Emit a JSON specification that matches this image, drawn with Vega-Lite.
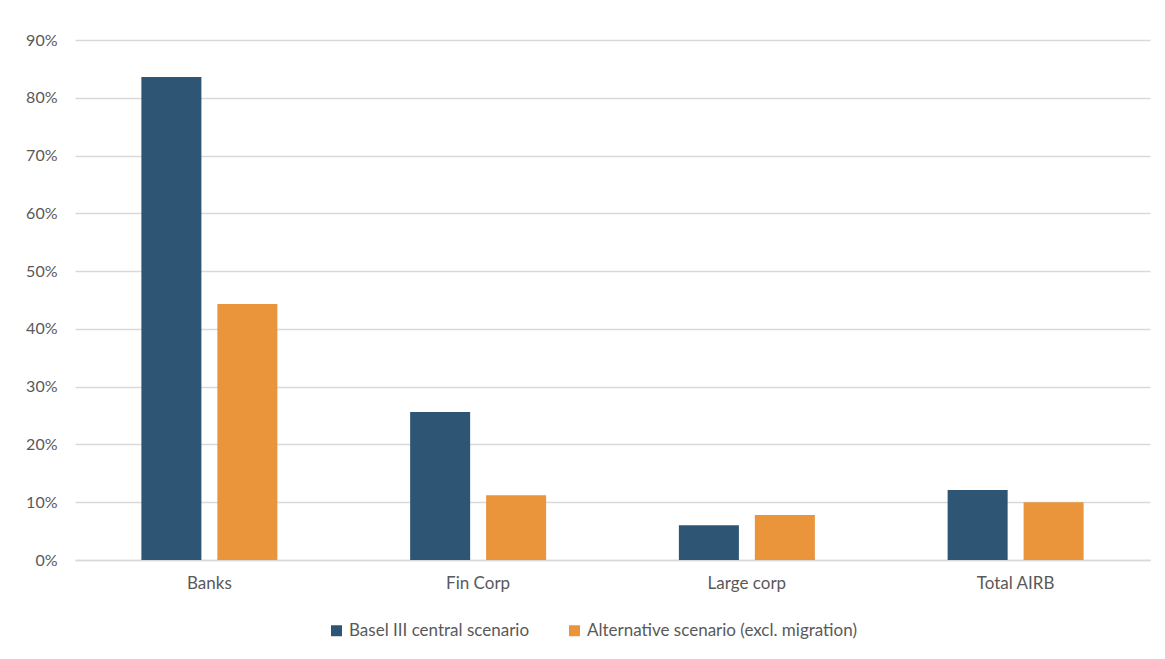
{
  "$schema": "https://vega.github.io/schema/vega-lite/v6.json",
  "autosize": "none",
  "width": 1075,
  "height": 520,
  "padding": {"left": 75, "top": 40, "right": 15, "bottom": 99},
  "background": "white",
  "data": {
    "values": [
      {"category": "Banks", "series": "Basel III central scenario", "value": 0.836},
      {"category": "Banks", "series": "Alternative scenario (excl. migration)", "value": 0.443},
      {"category": "Fin Corp", "series": "Basel III central scenario", "value": 0.256},
      {"category": "Fin Corp", "series": "Alternative scenario (excl. migration)", "value": 0.112},
      {"category": "Large corp", "series": "Basel III central scenario", "value": 0.060},
      {"category": "Large corp", "series": "Alternative scenario (excl. migration)", "value": 0.078},
      {"category": "Total AIRB", "series": "Basel III central scenario", "value": 0.121},
      {"category": "Total AIRB", "series": "Alternative scenario (excl. migration)", "value": 0.100}
    ]
  },
  "mark": {"type": "bar"},
  "encoding": {
    "x": {
      "field": "category",
      "type": "nominal",
      "sort": ["Banks", "Fin Corp", "Large corp", "Total AIRB"],
      "scale": {"paddingInner": 0.494, "paddingOuter": 0.247},
      "axis": {
        "title": null,
        "labelAngle": 0,
        "ticks": false,
        "domain": true,
        "domainColor": "#d9d9d9",
        "domainWidth": 1.5,
        "labelPadding": 15,
        "labelFont": "Lato",
        "labelFontSize": 17,
        "labelColor": "#595959"
      }
    },
    "xOffset": {
      "field": "series",
      "type": "nominal",
      "sort": ["Basel III central scenario", "Alternative scenario (excl. migration)"],
      "scale": {"paddingInner": 0.21}
    },
    "y": {
      "field": "value",
      "type": "quantitative",
      "scale": {"domain": [0, 0.9], "nice": false},
      "axis": {
        "title": null,
        "format": ".0%",
        "values": [0, 0.1, 0.2, 0.3, 0.4, 0.5, 0.6, 0.7, 0.8, 0.9],
        "domain": false,
        "ticks": false,
        "grid": true,
        "gridColor": "#d9d9d9",
        "gridWidth": 1.5,
        "labelPadding": 18,
        "labelFont": "Lato",
        "labelFontSize": 16,
        "labelColor": "#595959"
      }
    },
    "color": {
      "field": "series",
      "type": "nominal",
      "sort": ["Basel III central scenario", "Alternative scenario (excl. migration)"],
      "scale": {"range": ["#2e5573", "#ea943c"]},
      "legend": {
        "title": null,
        "orient": "none",
        "direction": "horizontal",
        "legendX": 253,
        "legendY": 582,
        "symbolType": "square",
        "symbolSize": 121,
        "symbolStrokeWidth": 0,
        "labelFont": "Lato",
        "labelFontSize": 17,
        "labelLimit": 400,
        "labelColor": "#595959",
        "labelOffset": 4,
        "columnPadding": 36
      }
    }
  },
  "config": {
    "view": {"stroke": null}
  }
}
